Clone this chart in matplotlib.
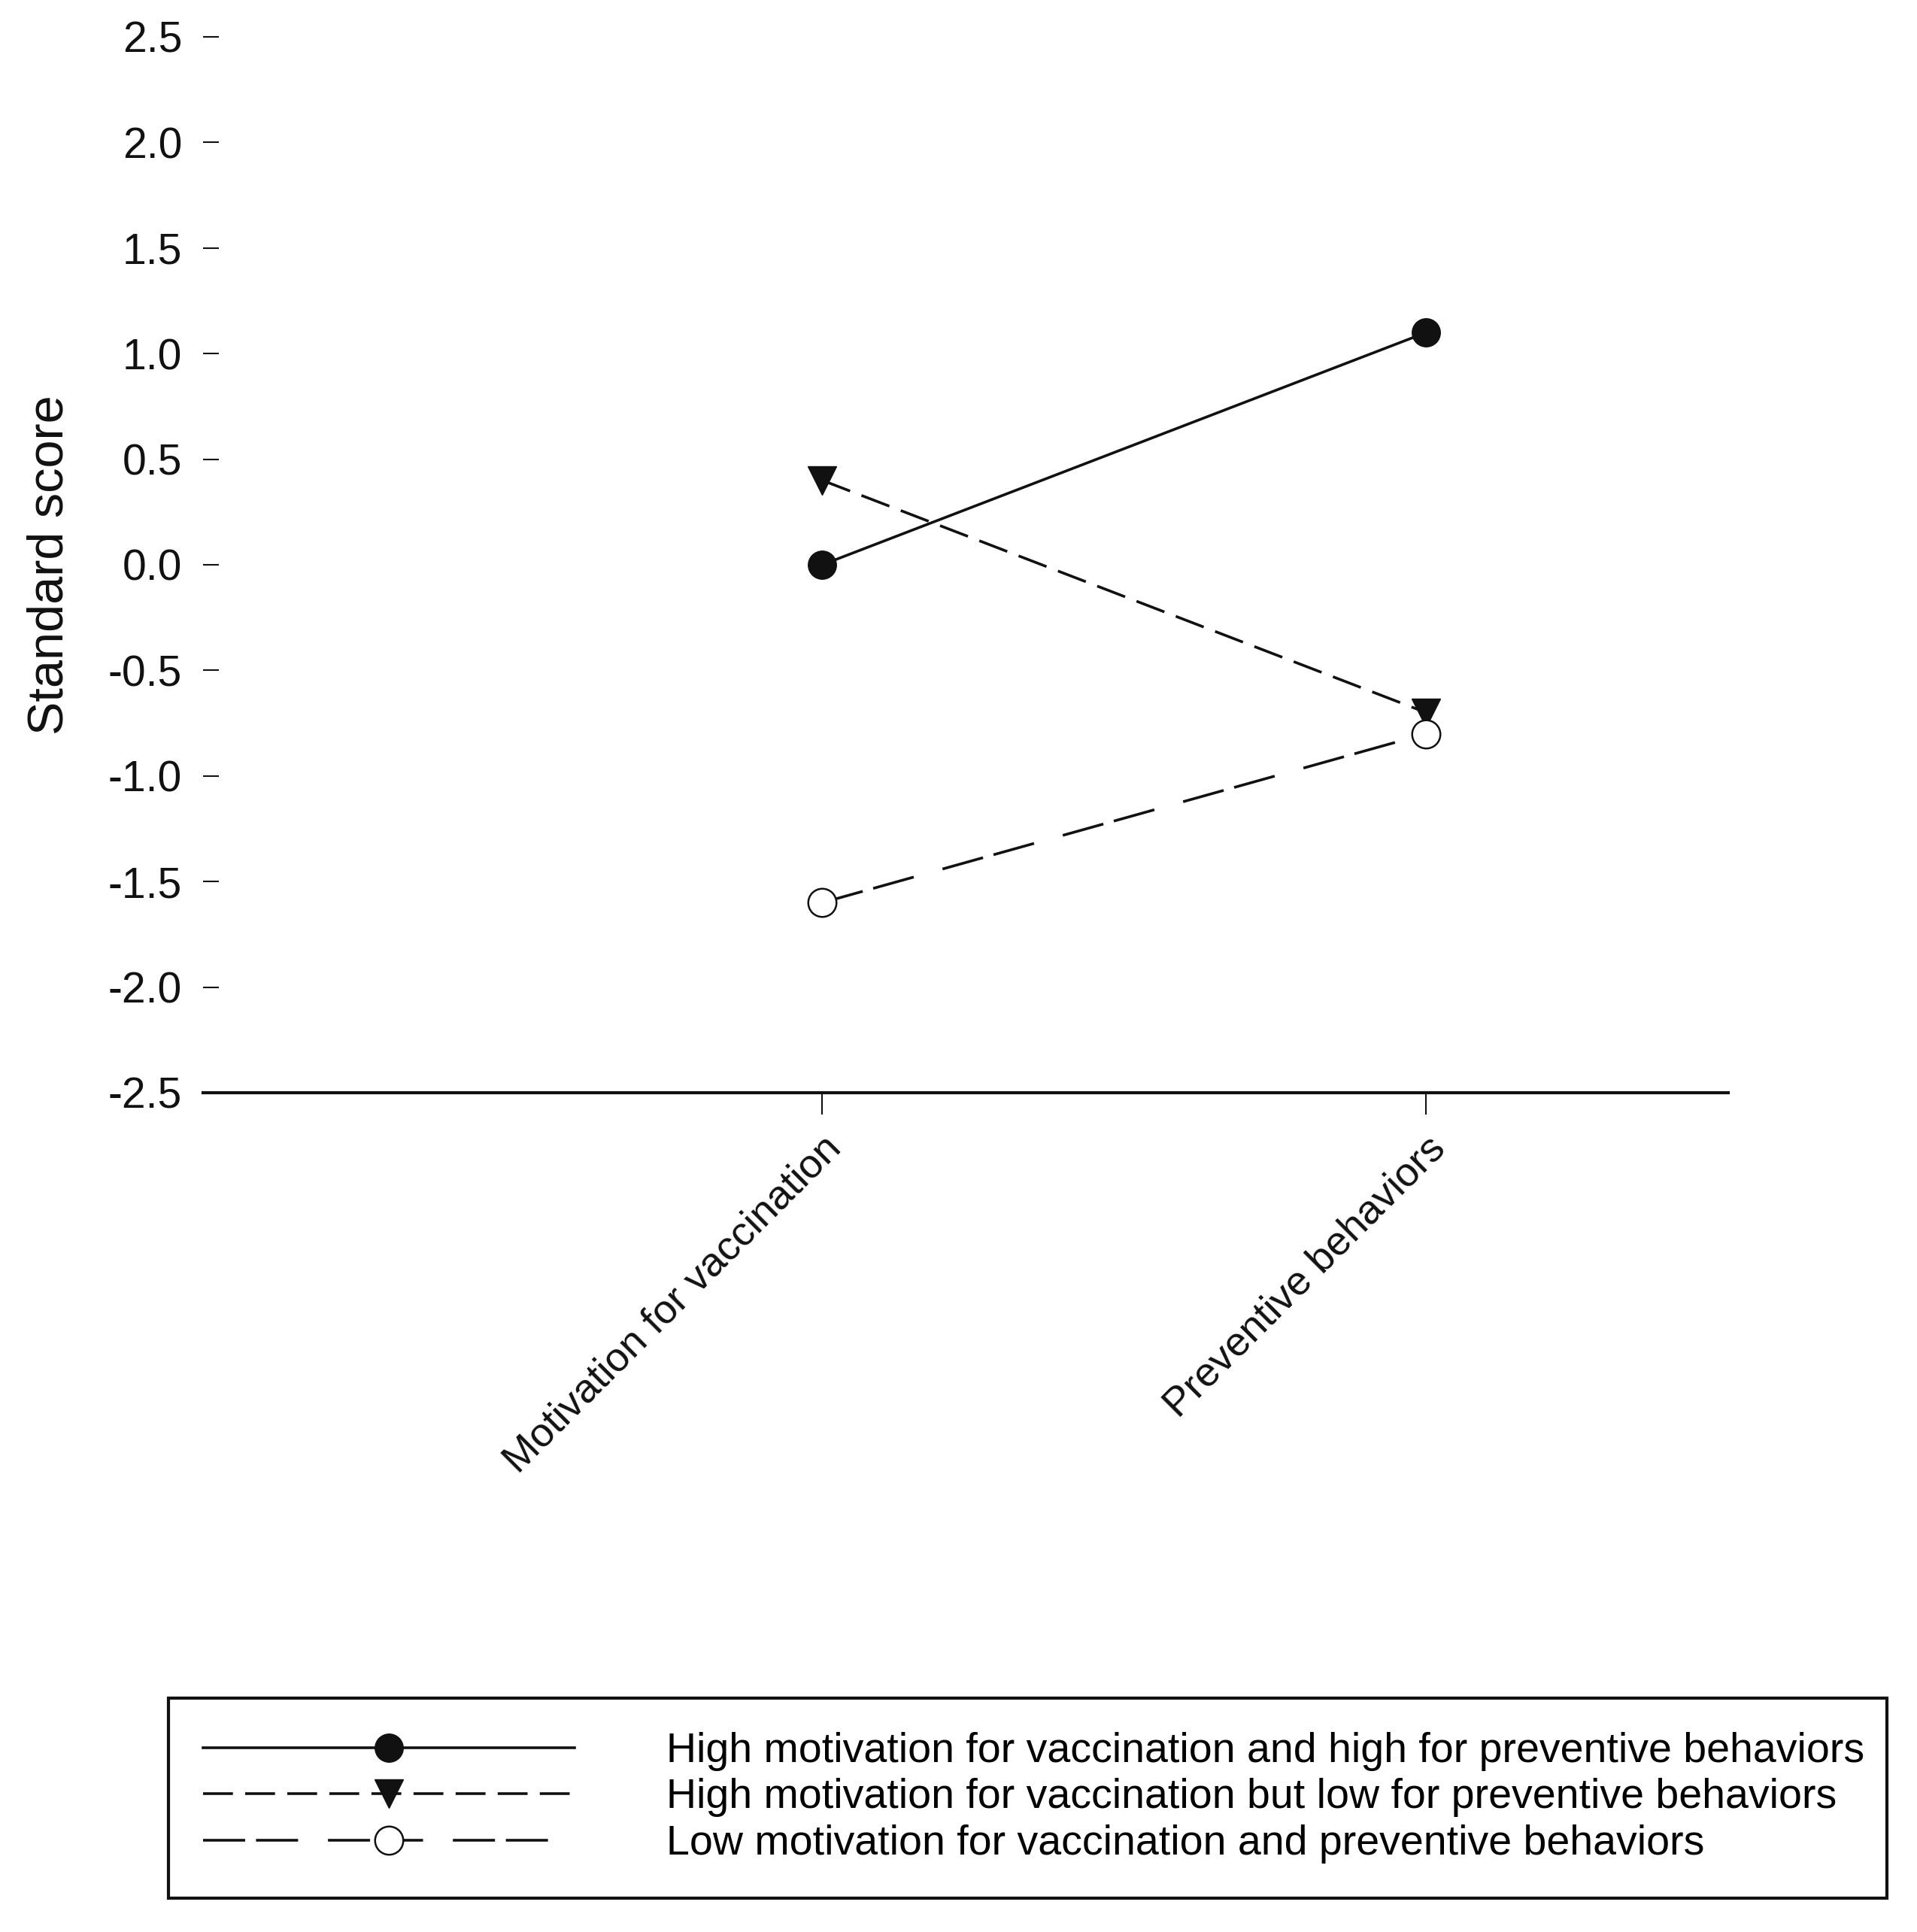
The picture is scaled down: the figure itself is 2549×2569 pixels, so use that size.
import matplotlib
matplotlib.use("Agg")
import matplotlib.pyplot as plt

plt.rcParams['font.family'] = ['Liberation Sans', 'DejaVu Sans']
plt.rcParams['axes.unicode_minus'] = False

categories = ["Motivation for vaccination", "Preventive behaviors"]
x_pos = [1, 2]
series_labels = [
    "High motivation for vaccination and high for preventive behaviors",
    "High motivation for vaccination but low for preventive behaviors",
    "Low motivation for vaccination and preventive behaviors",
]
high_high = [0.0, 1.1]
high_low = [0.4, -0.7]
low_low = [-1.6, -0.8]
y_ticks = [-2.5, -2.0, -1.5, -1.0, -0.5, 0.0, 0.5, 1.0, 1.5, 2.0, 2.5]
y_ticklabels = ["-2.5", "-2.0", "-1.5", "-1.0", "-0.5", "0.0", "0.5", "1.0", "1.5", "2.0", "2.5"]

W, H = 2549, 2569
fig = plt.figure(figsize=(W / 100, H / 100), dpi=100)
left, right, top, bottom = 270, 2298, 49, 1453
ax = fig.add_axes([left / W, 1 - bottom / H, (right - left) / W, (bottom - top) / H])

lw = 2.6
l1, = ax.plot(x_pos, high_high, color='#111111', lw=lw, ls='-', marker='o', ms=27,
              mfc='#111111', mec='#111111', label=series_labels[0])
l2, = ax.plot(x_pos, high_low, color='#111111', lw=lw, ls=(0, (11, 4.5)), marker='v', ms=27,
              mfc='#111111', mec='#111111', label=series_labels[1])
l3, = ax.plot(x_pos, low_low, color='#111111', lw=lw, ls=(0, (15.5, 4, 15.5, 11)), marker='o', ms=27,
              mfc='white', mec='#111111', mew=1.8, label=series_labels[2])

ax.set_xlim(-0.025, 2.5)
ax.set_ylim(-2.5, 2.5)
ax.set_yticks(y_ticks)
ax.set_yticklabels(y_ticklabels)
ax.set_xticks(x_pos)
ax.set_xticklabels(categories, rotation=45, ha='right', va='top', rotation_mode='anchor')

for s in ['left', 'right', 'top']:
    ax.spines[s].set_visible(False)
ax.spines['bottom'].set_linewidth(3)
ax.spines['bottom'].set_color('#111111')

ax.tick_params(axis='y', direction='in', length=15, width=1.5, pad=20, labelsize=41, colors='#111111')
ax.tick_params(axis='x', direction='out', length=21, width=1.5, pad=14, labelsize=39, colors='#111111')

ax.set_ylabel("Standard score", fontsize=48, color='#111111')
ax.yaxis.set_label_coords(-0.085, 0.5)

lx0, lx1, ly0, ly1 = 224, 2509, 2259, 2522
leg = fig.legend(handles=[l1, l2, l3], loc='center',
                 bbox_to_anchor=(lx0 / W, 1 - ly1 / H, (lx1 - lx0) / W, (ly1 - ly0) / H),
                 mode='expand', borderaxespad=0, fontsize=40, handlelength=8.9, handletextpad=2.2,
                 labelspacing=0.17, borderpad=0.82, fancybox=False, framealpha=1,
                 edgecolor='#111111', markerscale=1.0)
leg.get_frame().set_linewidth(3)

fig.savefig("out.png", dpi=100)
